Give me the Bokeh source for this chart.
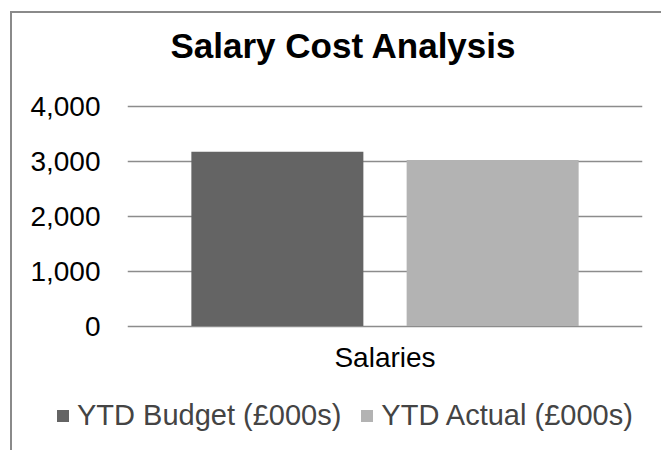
from bokeh.plotting import figure
from bokeh.layouts import column
from bokeh.models import (Range1d, FactorRange, Legend, LegendItem, Title,
                          FixedTicker, NumeralTickFormatter, ColumnDataSource)
from bokeh.transform import dodge
from bokeh.embed import file_html
from bokeh.resources import INLINE

# ---- data ----
categories = ["Salaries"]
series_names = ["YTD Budget (£000s)", "YTD Actual (£000s)"]
budget = [3170]
actual = [3020]
y_ticks = [0, 1000, 2000, 3000, 4000]
title_text = "Salary Cost Analysis"

FONT = "Liberation Sans"
GRID = "#8c8c8c"
BORDER = "#8a8a8a"
C_BUDGET = "#646464"
C_ACTUAL = "#b3b3b3"

p = figure(width=661, height=395, output_backend="svg", toolbar_location=None,
           x_range=FactorRange(*categories, range_padding=0),
           y_range=Range1d(-100, 4100),
           min_border_left=127, min_border_right=19,
           min_border_top=100, min_border_bottom=64)
p.outline_line_color = None
p.background_fill_color = "white"
p.border_fill_alpha = 0

src = ColumnDataSource(dict(cat=categories, budget=budget, actual=actual))
p.vbar(x=dodge("cat", -0.209, range=p.x_range), top="budget", bottom=0, width=0.334,
       source=src, fill_color=C_BUDGET, line_color=None)
p.vbar(x=dodge("cat", 0.209, range=p.x_range), top="actual", bottom=0, width=0.334,
       source=src, fill_color=C_ACTUAL, line_color=None)

p.yaxis.ticker = FixedTicker(ticks=y_ticks)
p.yaxis.formatter = NumeralTickFormatter(format="0,0")
p.yaxis.axis_line_color = None
p.yaxis.major_tick_line_color = None
p.yaxis.minor_tick_line_color = None
p.yaxis.major_tick_out = 0
p.yaxis.major_label_standoff = 27
p.yaxis.major_label_text_font = FONT
p.yaxis.major_label_text_font_size = "28px"
p.yaxis.major_label_text_color = "black"

p.xaxis.axis_line_color = None
p.xaxis.major_tick_line_color = None
p.xaxis.major_tick_out = 0
p.xaxis.major_label_standoff = 10
p.xaxis.major_label_text_font = FONT
p.xaxis.major_label_text_font_size = "28px"
p.xaxis.major_label_text_color = "black"

p.xgrid.grid_line_color = None
p.ygrid.ticker = FixedTicker(ticks=y_ticks)
p.ygrid.grid_line_color = GRID
p.ygrid.grid_line_width = 1.5

p.title.text = title_text
p.title.text_font = FONT
p.title.text_font_size = "35px"
p.title.text_font_style = "bold"
p.title.text_color = "black"
p.title.align = "left"
p.title.offset = 43
p.title.standoff = 0
p.add_layout(Title(text=".", text_font_size="1px", text_color="white", standoff=33), "above")

p2 = figure(width=661, height=55, output_backend="svg", toolbar_location=None,
            x_range=Range1d(0, 1), y_range=Range1d(0, 1),
            x_axis_type=None, y_axis_type=None, min_border=0)
p2.outline_line_color = None
p2.border_fill_alpha = 0
p2.background_fill_alpha = 0
p2.xgrid.visible = False
p2.ygrid.visible = False
l1 = p2.vbar(x=[5], top=[1], width=0.1, fill_color=C_BUDGET, line_color=None)
l2 = p2.vbar(x=[5], top=[1], width=0.1, fill_color=C_ACTUAL, line_color=None)
legend = Legend(items=[LegendItem(label=series_names[0], renderers=[l1]),
                       LegendItem(label=series_names[1], renderers=[l2])],
                orientation="horizontal", location=(55, 18),
                glyph_width=15, glyph_height=15, label_standoff=7, spacing=18,
                padding=0, margin=0, border_line_color=None, background_fill_alpha=0,
                label_text_font=FONT, label_text_font_size="29px", label_height=30)
p2.add_layout(legend, "center")

layout = column(p, column(p2, spacing=0), spacing=0)
layout.styles = {
    "background-color": "white",
    "background-image": f"linear-gradient({BORDER},{BORDER}), linear-gradient({BORDER},{BORDER})",
    "background-position": "10px 11px, 10px 11px",
    "background-size": "2px 100%, 100% 2px",
    "background-repeat": "no-repeat",
}

open("out.html", "w").write(file_html(layout, INLINE))
